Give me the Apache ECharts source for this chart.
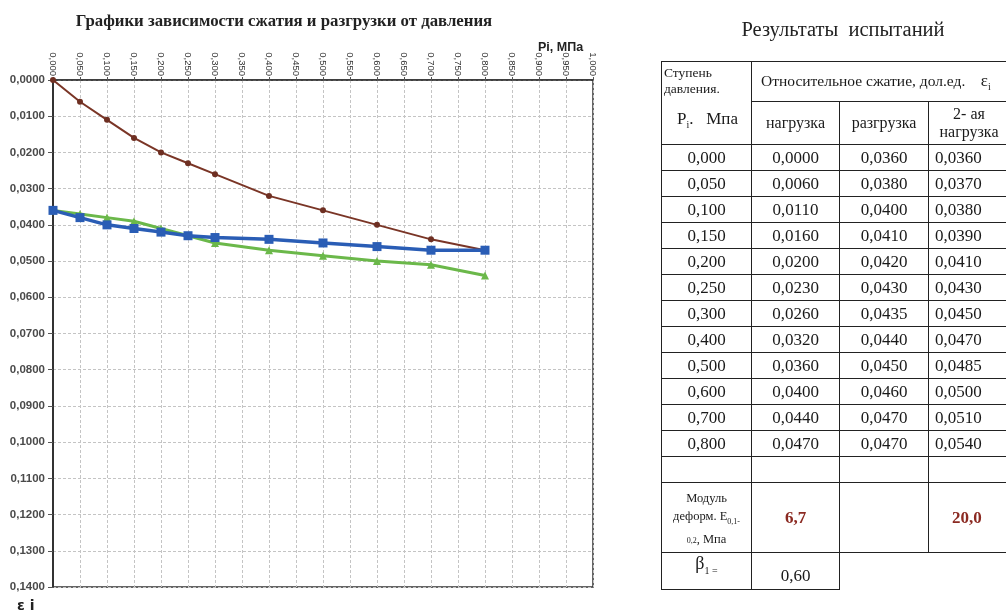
<!DOCTYPE html>
<html>
<head>
<meta charset="utf-8">
<script src="https://cdn.jsdelivr.net/npm/echarts@6/dist/echarts.min.js"></script>
<style>
  html, body { margin: 0; padding: 0; background: #fff; overflow: hidden; width: 1006px; height: 614px; }
  #chart { position: absolute; left: 0; top: 0; width: 1006px; height: 614px; }
  #tbl {
    position: absolute; left: 661px; top: 61px; width: 362px;
    border-collapse: collapse;
    font-family: "Liberation Serif", "Times New Roman", serif;
    color: #1a1a1a;
    table-layout: fixed;
  }
  #tbl td { border: 1.5px solid #222; text-align: center; padding: 0; overflow: visible; }
  #tbl td.num { font-size: 17px; height: 25px; }
  #tbl td.blank { border: none; }
  .hdr { font-size: 16px; }
  .red { color: #8b2a22; font-size: 17px; font-weight: bold; }
</style>
</head>
<body>
<div id="chart"></div>
<table id="tbl"></table>
<script>
// ---- data ----
const pressure = [0.000, 0.050, 0.100, 0.150, 0.200, 0.250, 0.300, 0.400, 0.500, 0.600, 0.700, 0.800];
const loading   = [0.0000, 0.0060, 0.0110, 0.0160, 0.0200, 0.0230, 0.0260, 0.0320, 0.0360, 0.0400, 0.0440, 0.0470];
const unloading = [0.0360, 0.0380, 0.0400, 0.0410, 0.0420, 0.0430, 0.0435, 0.0440, 0.0450, 0.0460, 0.0470, 0.0470];
const reloading = [0.0360, 0.0370, 0.0380, 0.0390, 0.0410, 0.0430, 0.0450, 0.0470, 0.0485, 0.0500, 0.0510, 0.0540];
const modulusLoad = '6,7';
const modulusReload = '20,0';
const beta = '0,60';

const chartTitle = 'Графики зависимости сжатия и разгрузки от давления';
const tableTitle = 'Результаты  испытаний';
const xName = 'Pi, МПа';
const yName = 'ε i';

const fmt = (v, d) => v.toFixed(d).replace('.', ',');
const pairs = arr => pressure.map((p, i) => [p, arr[i]]);

const chart = echarts.init(document.getElementById('chart'));
chart.setOption({
  backgroundColor: '#fff',
  animation: false,
  title: [
    { text: chartTitle, left: 279, top: 8, textAlign: 'center',
      textStyle: { fontFamily: 'Liberation Serif', fontWeight: 'bold', fontSize: 16.8, color: '#222' } },
    { text: xName, left: 533, top: 36,
      textStyle: { fontFamily: 'Liberation Sans', fontWeight: 'bold', fontSize: 12.5, color: '#222' } },
    { text: yName, left: 12, top: 594,
      textStyle: { fontFamily: 'DejaVu Sans', fontWeight: 'bold', fontSize: 14, color: '#222' } },
    { text: tableTitle, left: 838, top: 15, textAlign: 'center',
      textStyle: { fontFamily: 'Liberation Serif', fontWeight: 'normal', fontSize: 20.5, color: '#222' } }
  ],
  grid: { left: 53, top: 80, width: 540, height: 507, show: true, borderColor: '#333', borderWidth: 1.5 },
  xAxis: {
    type: 'value', position: 'top', min: 0, max: 1, interval: 0.05,
    axisLine: { show: true, onZero: false, lineStyle: { color: '#333', width: 1.5 } },
    axisTick: { show: true, length: 3, lineStyle: { color: '#555' } },
    axisLabel: { rotate: 90, fontSize: 9.5, fontFamily: 'Liberation Sans', color: '#333',
      margin: 4, formatter: v => fmt(v, 3) },
    splitLine: { show: true, lineStyle: { color: '#c4c4c4', width: 1, type: [3, 2] } }
  },
  yAxis: {
    type: 'value', inverse: true, min: 0, max: 0.14, interval: 0.01,
    axisLine: { show: true, onZero: false, lineStyle: { color: '#333', width: 2 } },
    axisTick: { show: true, length: 5, lineStyle: { color: '#555' } },
    axisLabel: { fontSize: 11.5, fontFamily: 'Liberation Sans', fontWeight: 'bold', color: '#4a4a4a', margin: 8,
      formatter: v => fmt(v, 4) },
    splitLine: { show: true, lineStyle: { color: '#c4c4c4', width: 1, type: [3, 2] } }
  },
  series: [
    { name: 'нагрузка', type: 'line', data: pairs(loading), symbol: 'circle', symbolSize: 6,
      lineStyle: { color: '#7a3526', width: 2 }, itemStyle: { color: '#6e2f22' }, z: 3 },
    { name: '2- ая нагрузка', type: 'line', data: pairs(reloading), symbol: 'triangle', symbolSize: 8,
      lineStyle: { color: '#6bb84a', width: 3 }, itemStyle: { color: '#6bb84a' }, z: 4 },
    { name: 'разгрузка', type: 'line', data: pairs(unloading), symbol: 'rect', symbolSize: 9,
      lineStyle: { color: '#2a5db5', width: 3.5 }, itemStyle: { color: '#2a5db5' }, z: 5 }
  ]
});

// ---- results table ----
const tbl = document.getElementById('tbl');
let html = '<colgroup><col style="width:90px"><col style="width:88px"><col style="width:89px"><col style="width:95px"></colgroup>';
html += '<tr style="height:40px"><td rowspan="2" style="text-align:left;vertical-align:top;padding:3px 0 0 2px">' +
  '<div style="font-size:13.5px;line-height:16px">Ступень<br>давления.</div>' +
  '<div style="font-size:17px;margin-top:12px;text-align:center">P<sub style="font-size:10px">i</sub>.&nbsp;&nbsp; Мпа</div></td>' +
  '<td colspan="3" style="font-size:15.5px;text-align:left;padding-left:9px;white-space:nowrap">Относительное сжатие, дол.ед.&nbsp;&nbsp;&nbsp; <span style="font-size:17px">ε<sub style="font-size:10px">i</sub></span></td></tr>';
html += '<tr style="height:43px"><td class="hdr">нагрузка</td><td class="hdr">разгрузка</td><td class="hdr" style="line-height:18px;text-align:left;padding-left:0"><div style="width:80px;text-align:center">2- ая<br>нагрузка</div></td></tr>';
pressure.forEach((p, i) => {
  html += '<tr><td class="num">' + fmt(p, 3) + '</td><td class="num">' + fmt(loading[i], 4) +
    '</td><td class="num">' + fmt(unloading[i], 4) + '</td><td class="num" style="text-align:left;padding-left:6px">' + fmt(reloading[i], 4) + '</td></tr>';
});
html += '<tr style="height:26px"><td></td><td></td><td></td><td></td></tr>';
html += '<tr style="height:70px"><td style="font-size:12.5px;line-height:18px;padding-top:4px">Модуль<br>деформ. E<sub style="font-size:8px">0,1-</sub><br><span style="font-size:8px">0,2</span>, Мпа</td>' +
  '<td class="red">' + modulusLoad + '</td><td></td><td class="red" style="text-align:left;padding-left:23px">' + modulusReload + '</td></tr>';
html += '<tr style="height:37px"><td style="font-size:18px;vertical-align:top">β<sub style="font-size:10px">1 =</sub></td>' +
  '<td style="font-size:17px;vertical-align:bottom;padding-bottom:3px">' + beta + '</td><td class="blank"></td><td class="blank"></td></tr>';
tbl.innerHTML = html;
</script>
</body>
</html>
